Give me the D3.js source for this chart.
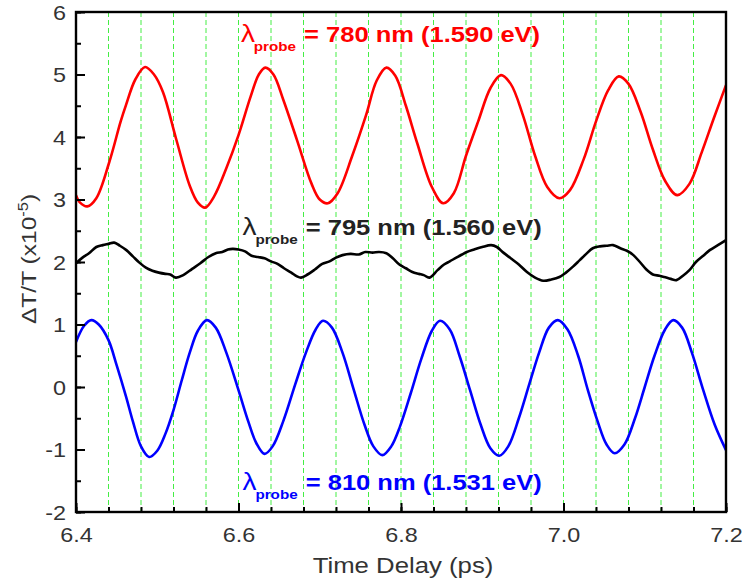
<!DOCTYPE html>
<html><head><meta charset="utf-8">
<script src="https://cdn.jsdelivr.net/npm/d3@7"></script>
<style>
html,body{margin:0;padding:0;background:#fff;}
svg{display:block;font-family:"Liberation Sans",Arial,sans-serif;}
</style></head>
<body>
<svg id="chart" width="745" height="583"></svg>
<script>
// ---- data ----
const xTickLabels = [6.4, 6.6, 6.8, 7.0, 7.2];
const yTickLabels = [-2, -1, 0, 1, 2, 3, 4, 5, 6];

const redT = [6.400,6.405,6.414,6.425,6.441,6.455,6.4615,6.473,6.485,6.496,6.507,6.523,6.540,6.550,6.559,6.570,6.585,6.600,6.615,6.625,6.633,6.643,6.655,6.672,6.690,6.700,6.710,6.722,6.740,6.757,6.770,6.782,6.793,6.806,6.820,6.838,6.852,6.865,6.880,6.895,6.910,6.923,6.935,6.950,6.965,6.980,6.995,7.008,7.025,7.040,7.055,7.068,7.080,7.095,7.110,7.125,7.140,7.155,7.170,7.185,7.200];
const redV = [3.07,2.95,2.89,3.02,3.60,4.25,4.51,4.92,5.12,5.00,4.72,3.98,3.22,2.95,2.87,3.05,3.50,4.03,4.65,5.00,5.11,5.00,4.60,3.95,3.25,3.00,2.94,3.10,3.70,4.35,4.90,5.11,4.98,4.50,3.90,3.20,2.94,3.10,3.70,4.25,4.78,4.99,4.85,4.35,3.70,3.20,3.02,3.15,3.65,4.25,4.75,4.97,4.85,4.40,3.80,3.30,3.07,3.25,3.75,4.30,4.83];

const blackT = [6.400,6.408,6.416,6.425,6.433,6.440,6.447,6.454,6.462,6.470,6.478,6.486,6.494,6.502,6.510,6.516,6.523,6.532,6.543,6.553,6.563,6.572,6.580,6.587,6.593,6.600,6.608,6.616,6.624,6.632,6.640,6.648,6.656,6.665,6.672,6.677,6.685,6.694,6.703,6.712,6.720,6.728,6.738,6.748,6.756,6.765,6.773,6.782,6.790,6.798,6.806,6.814,6.822,6.828,6.835,6.845,6.853,6.860,6.868,6.875,6.881,6.890,6.900,6.911,6.918,6.926,6.935,6.945,6.955,6.965,6.975,6.985,6.995,7.003,7.012,7.020,7.028,7.036,7.045,7.053,7.061,7.070,7.078,7.086,7.094,7.102,7.110,7.118,7.124,7.132,7.139,7.147,7.155,7.163,7.172,7.180,7.190,7.200];
const blackV = [1.98,2.07,2.14,2.24,2.27,2.29,2.31,2.26,2.19,2.09,1.99,1.91,1.86,1.83,1.81,1.80,1.75,1.79,1.89,1.98,2.08,2.14,2.16,2.20,2.21,2.20,2.17,2.10,2.08,2.06,2.01,1.97,1.90,1.83,1.77,1.75,1.80,1.88,1.97,2.01,2.07,2.11,2.13,2.12,2.16,2.15,2.16,2.14,2.06,1.96,1.90,1.84,1.81,1.79,1.75,1.87,1.96,2.01,2.07,2.12,2.16,2.20,2.24,2.27,2.24,2.15,2.06,1.96,1.84,1.75,1.70,1.72,1.76,1.83,1.93,2.03,2.13,2.22,2.25,2.26,2.27,2.22,2.18,2.11,2.00,1.88,1.80,1.78,1.76,1.73,1.71,1.78,1.87,2.00,2.10,2.19,2.27,2.35];

const blueT = [6.400,6.410,6.419,6.428,6.440,6.450,6.4615,6.470,6.480,6.490,6.500,6.510,6.520,6.530,6.540,6.550,6.561,6.572,6.585,6.600,6.612,6.622,6.632,6.642,6.655,6.670,6.683,6.695,6.704,6.715,6.728,6.742,6.755,6.766,6.777,6.788,6.7988,6.812,6.825,6.838,6.848,6.860,6.872,6.885,6.898,6.910,6.921,6.932,6.945,6.958,6.970,6.982,6.993,7.005,7.018,7.030,7.042,7.053,7.063,7.075,7.088,7.100,7.112,7.125,7.135,7.146,7.158,7.172,7.186,7.200];
const blueV = [0.72,0.98,1.07,1.00,0.75,0.35,-0.15,-0.55,-0.95,-1.12,-1.02,-0.75,-0.37,0.10,0.55,0.90,1.07,0.95,0.55,-0.05,-0.55,-0.90,-1.07,-0.95,-0.55,0.05,0.55,0.92,1.06,0.95,0.55,-0.05,-0.60,-0.95,-1.09,-0.95,-0.63,-0.10,0.45,0.90,1.06,0.92,0.50,-0.05,-0.60,-0.98,-1.10,-0.95,-0.50,0.05,0.55,0.95,1.07,0.92,0.50,-0.05,-0.55,-0.92,-1.06,-0.92,-0.50,0.00,0.50,0.92,1.07,0.95,0.55,-0.05,-0.60,-1.01];

const labels = [
  {sub:"probe", text:"= 780 nm (1.590 eV)", color:"#ff0000", t:6.603, v:5.52},
  {sub:"probe", text:"= 795 nm (1.560 eV)", color:"#222222", t:6.605, v:2.43},
  {sub:"probe", text:"= 810 nm (1.531 eV)", color:"#0000ff", t:6.605, v:-1.65}
];

// ---- layout ----
const W = 745, H = 583;
const m = {left:76, top:12, right:19, bottom:71};
const SX = 1.17; // horizontal stretch of the reference's type
const svg = d3.select("#chart");
const x = d3.scaleLinear().domain([6.4, 7.2]).range([m.left, W - m.right]);
const y = d3.scaleLinear().domain([-2, 6]).range([H - m.bottom, m.top]);

// grid (dashed green verticals at each minor x tick)
const minorX = d3.range(0, 21).map(i => +(6.4 + i * 0.04).toFixed(2));
svg.append("g").selectAll("line")
  .data(minorX.filter(d => d > 6.41 && d < 7.19))
  .join("line")
  .attr("x1", d => x(d)).attr("x2", d => x(d))
  .attr("y1", m.top).attr("y2", H - m.bottom)
  .attr("stroke", "#44ee44").attr("stroke-width", 1)
  .attr("stroke-dasharray", "5,3");

// series
const series = [
  {t:redT, v:redV, c:"#ff0000"},
  {t:blackT, v:blackV, c:"#000000"},
  {t:blueT, v:blueV, c:"#0000ff"}
];
const line = d3.line().x(d => x(d[0])).y(d => y(d[1])).curve(d3.curveCatmullRom.alpha(0.5));
svg.append("clipPath").attr("id","clip").append("rect")
  .attr("x", m.left).attr("y", m.top).attr("width", W - m.left - m.right).attr("height", H - m.top - m.bottom);
svg.append("g").attr("clip-path","url(#clip)").selectAll("path")
  .data(series).join("path")
  .attr("d", s => line(s.t.map((t, i) => [t, s.v[i]])))
  .attr("fill", "none").attr("stroke", s => s.c).attr("stroke-width", 2.6)
  .attr("stroke-linejoin", "round");

// frame
svg.append("rect").attr("x", m.left).attr("y", m.top)
  .attr("width", W - m.left - m.right).attr("height", H - m.top - m.bottom)
  .attr("fill", "none").attr("stroke", "#000").attr("stroke-width", 2.4);

// axes
const minorY = d3.range(0, 17).map(i => -2 + i * 0.5);
const hyphen = f => d => f(d).replace("\u2212", "-");
const gxMinor = svg.append("g").attr("transform", `translate(0,${H - m.bottom})`)
  .call(d3.axisBottom(x).tickValues(minorX).tickSize(-5).tickFormat(""));
const gx = svg.append("g").attr("transform", `translate(0,${H - m.bottom})`)
  .call(d3.axisBottom(x).tickValues(xTickLabels).tickSize(-9).tickPadding(0).tickFormat(hyphen(d3.format(".1f"))));
const gyMinor = svg.append("g").attr("transform", `translate(${m.left},0)`)
  .call(d3.axisLeft(y).tickValues(minorY).tickSize(-5).tickFormat(""));
const gy = svg.append("g").attr("transform", `translate(${m.left},0)`)
  .call(d3.axisLeft(y).tickValues(yTickLabels).tickSize(-9).tickFormat(hyphen(d3.format("d"))));
[gxMinor, gx, gyMinor, gy].forEach(g => {
  g.select(".domain").remove();
  g.selectAll(".tick line").attr("stroke", "#000").attr("stroke-width", 2);
});
gx.selectAll(".tick text")
  .attr("y", 0).attr("dy", null)
  .attr("transform", `translate(0,30) scale(${SX},1)`)
  .attr("font-size", 20).attr("fill", "#333")
  .attr("font-family", "Liberation Sans, Arial, sans-serif");
gy.selectAll(".tick text")
  .attr("x", 0).attr("dy", "0.35em")
  .attr("transform", `translate(-10,0) scale(${SX},1)`)
  .attr("font-size", 20).attr("fill", "#333")
  .attr("font-family", "Liberation Sans, Arial, sans-serif");

// axis titles
svg.append("text")
  .attr("transform", `translate(${(m.left + W - m.right) / 2 + 2},573) scale(${SX},1)`)
  .attr("text-anchor", "middle").attr("font-size", 22).attr("fill", "#333")
  .text("Time Delay (ps)");
const yt = svg.append("text")
  .attr("transform", `translate(36,259) rotate(-90) scale(${SX},1)`)
  .attr("text-anchor", "middle").attr("font-size", 21).attr("fill", "#333");
yt.append("tspan").text("\u0394T/T (x10");
yt.append("tspan").attr("font-size", 14).attr("dy", -8).text("-5");
yt.append("tspan").attr("dy", 8).text(")");

// series annotations
labels.forEach(l => {
  const g = svg.append("g").attr("transform", `translate(${x(l.t)},${y(l.v)}) scale(${SX},1)`);
  const t = g.append("text").attr("fill", l.color);
  t.append("tspan").attr("x", 0).attr("font-size", 24).text("\u03bb");
  t.append("tspan").attr("x", 11).attr("dy", 9).attr("font-size", 13).attr("font-weight", "bold").text(l.sub);
  t.append("tspan").attr("x", 54).attr("dy", -9).attr("font-size", 21.8).attr("font-weight", "bold").text(l.text);
});
</script>
</body></html>
